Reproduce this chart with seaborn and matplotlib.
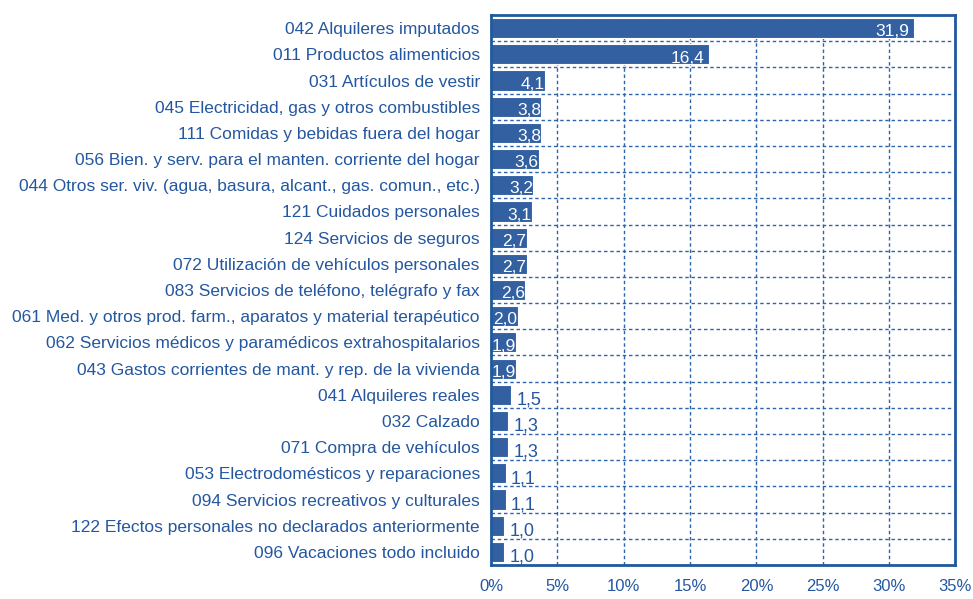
import matplotlib.pyplot as plt
import matplotlib.ticker as mticker
import pandas as pd
import seaborn as sns

categories = [
    "042 Alquileres imputados",
    "011 Productos alimenticios",
    "031 Artículos de vestir",
    "045 Electricidad, gas y otros combustibles",
    "111 Comidas y bebidas fuera del hogar",
    "056 Bien. y serv. para el manten. corriente del hogar",
    "044 Otros ser. viv. (agua, basura, alcant., gas. comun., etc.)",
    "121 Cuidados personales",
    "124 Servicios de seguros",
    "072 Utilización de vehículos personales",
    "083 Servicios de teléfono, telégrafo y fax",
    "061 Med. y otros prod. farm., aparatos y material terapéutico",
    "062 Servicios médicos y paramédicos extrahospitalarios",
    "043 Gastos corrientes de mant. y rep. de la vivienda",
    "041 Alquileres reales",
    "032 Calzado",
    "071 Compra de vehículos",
    "053 Electrodomésticos y reparaciones",
    "094 Servicios recreativos y culturales",
    "122 Efectos personales no declarados anteriormente",
    "096 Vacaciones todo incluido",
]
values = [31.9, 16.4, 4.1, 3.8, 3.8, 3.6, 3.2, 3.1, 2.7, 2.7, 2.6, 2.0,
          1.9, 1.9, 1.5, 1.3, 1.3, 1.1, 1.1, 1.0, 1.0]

bar_color = "#3260a0"
text_color = "#2457a0"
grid_color = "#2e64ab"

sns.set_style("white")
plt.rcParams['font.family'] = ['Liberation Sans', 'DejaVu Sans']

df = pd.DataFrame({"cat": categories, "val": values})

fig = plt.figure(figsize=(9.73, 5.99), dpi=100)
ax = fig.add_axes([0.5046, 0.0568, 0.4774, 0.918])
sns.barplot(data=df, x="val", y="cat", orient="h", color=bar_color,
            width=0.77, edgecolor="white", linewidth=0.8, saturation=1, ax=ax)

ax.set_xlim(0, 35)
ax.set_ylim(len(categories) - 0.5, -0.5)
ax.xaxis.set_major_locator(mticker.MultipleLocator(5))
ax.xaxis.set_major_formatter(mticker.FuncFormatter(lambda v, p: f"{v:.0f}%"))
ax.set_yticks([i + 0.5 for i in range(-1, len(categories))], minor=True)

ax.set_axisbelow(True)
ax.grid(axis="x", which="major", color=grid_color, linestyle=(0, (2.5, 2)), linewidth=1)
ax.grid(axis="y", which="minor", color=grid_color, linestyle=(0, (2.5, 2)), linewidth=1)

ax.tick_params(axis="y", which="major", length=0, pad=8, labelsize=12.5, labelcolor=text_color)
ax.tick_params(axis="y", which="minor", length=5, width=1.5, color=grid_color, direction="out")
ax.tick_params(axis="x", which="major", length=8, width=1.5, color=grid_color, direction="inout",
               labelsize=12, labelcolor=text_color, pad=6)
ax.set_xlabel("")
ax.set_ylabel("")

for s in ax.spines.values():
    s.set_visible(True)
    s.set_color("#1f5a9e")
    s.set_linewidth(2)

for i, v in enumerate(values):
    lab = f"{v:.1f}".replace(".", ",")
    if v >= 1.9:
        xpos = v - 0.35 if v > 10 else v - 0.02
        ax.text(xpos, i + 0.14, lab, ha="right", va="center", color="white", fontsize=12.5)
    else:
        ax.text(v + 0.4, i + 0.2, lab, ha="left", va="center", color=text_color, fontsize=13)

plt.savefig("out.png", dpi=100)
